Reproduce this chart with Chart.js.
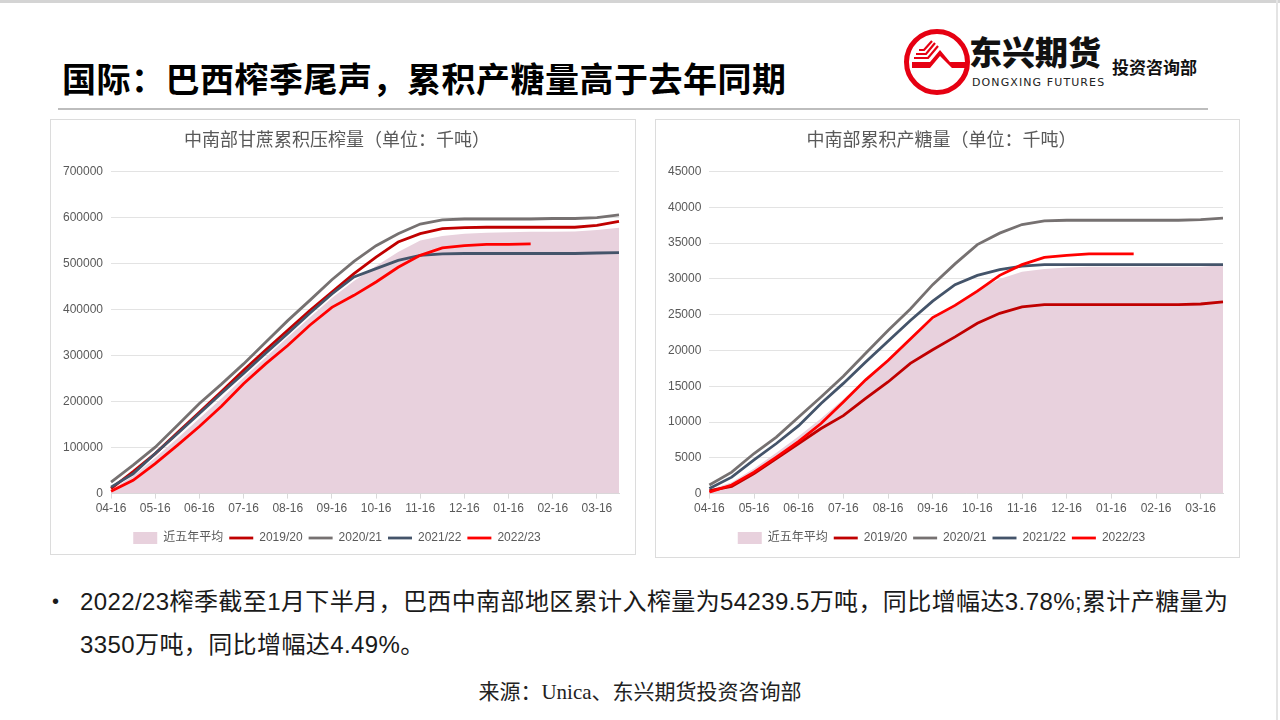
<!DOCTYPE html>
<html>
<head>
<meta charset="utf-8">
<script src="https://cdn.jsdelivr.net/npm/chart.js@4/dist/chart.umd.min.js"></script>
<style>
  html, body { margin: 0; padding: 0; background: #fff; }
  body { width: 1280px; height: 720px; position: relative; overflow: hidden;
         font-family: "Liberation Sans", "Noto Sans CJK SC", sans-serif; }
  .topline { position: absolute; left: 0; top: 0; width: 1280px; height: 3px; background: #d4d4d4; }
  .rightline { position: absolute; left: 1276px; top: 0; width: 2px; height: 720px; background: #e4e4e4; }
  .title { position: absolute; left: 62px; top: 61px; font-size: 34px; line-height: 1; font-weight: bold;
           letter-spacing: 0.5px; font-family: "Noto Sans CJK SC", sans-serif; color: #000; }
  .rule { position: absolute; left: 58px; top: 108px; width: 1150px; height: 2px; background: #bdbdbd; }
  .box { position: absolute; border: 1px solid #dcdcdc; background: #fff; }
  .bullet { position: absolute; left: 52px; top: 580px; font-size: 24px; color: #1a1a1a; line-height: 43px; }
  .bullet .dot { position: absolute; left: 0; top: 0; font-size: 20px; }
  .bullet .txt { position: absolute; left: 28px; top: 0; width: 1190px; white-space: nowrap; letter-spacing: 0.4px; }
  .source { position: absolute; left: 0; width: 1280px; top: 682px; text-align: center; line-height: 1;
            font-size: 21px; color: #222; font-family: "Liberation Serif", "Noto Sans CJK SC", serif; }
  .logo-cn { position: absolute; left: 969px; top: 35px; font-size: 33px; line-height: 1; font-weight: 900;
             font-family: "Noto Sans CJK SC", sans-serif; color: #111; }
  .logo-en { position: absolute; left: 972px; top: 77px; font-size: 11px; line-height: 1; color: #222;
             letter-spacing: 1.1px; font-family: "DejaVu Sans", sans-serif; }
  .logo-dept { position: absolute; left: 1112px; top: 58px; font-size: 17px; line-height: 1; font-weight: bold;
               font-family: "Noto Sans CJK SC", sans-serif; color: #111; }
</style>
</head>
<body>
<div class="topline"></div>
<div class="rightline"></div>
<div class="title">国际：巴西榨季尾声，累积产糖量高于去年同期</div>

<svg style="position:absolute;left:900px;top:26px" width="74" height="74" viewBox="0 0 74 74">
  <circle cx="37" cy="36" r="30.5" fill="none" stroke="#e60012" stroke-width="5"/>
  <path d="M12 36 L30 36 L40 24 L50 36 L66 36 L66 42 L52 42 L40 30 L30 42 L12 42 Z" fill="#e60012"/>
  <path d="M14 32 L28 32 L38 20 M16 28 L26 28 L35 17 M19 24 L24 24 L32 15" stroke="#e60012" stroke-width="2.2" fill="none"/>
</svg>
<div class="logo-cn">东兴期货</div>
<div class="logo-en">DONGXING FUTURES</div>
<div class="logo-dept">投资咨询部</div>

<div class="rule"></div>

<div class="box" style="left:50px;top:119px;width:584px;height:434px;">
  <canvas id="crushChart" width="584" height="434"></canvas>
</div>
<div class="box" style="left:655px;top:119px;width:583px;height:437px;">
  <canvas id="sugarChart" width="583" height="437"></canvas>
</div>

<div class="bullet">
  <div class="dot">•</div>
  <div class="txt">2022/23榨季截至1月下半月，巴西中南部地区累计入榨量为54239.5万吨，同比增幅达3.78%;累计产糖量为<br>3350万吨，同比增幅达4.49%。</div>
</div>
<div class="source">来源：Unica、东兴期货投资咨询部</div>

<script>
// 半月度日期（榨季4月16日起）
const dates = ['04-16', '05-01', '05-16', '06-01', '06-16', '07-01', '07-16', '08-01',
               '08-16', '09-01', '09-16', '10-01', '10-16', '11-01', '11-16', '12-01',
               '12-16', '01-01', '01-16', '02-01', '02-16', '03-01', '03-16', '04-01'];

// 甘蔗累积压榨量（千吨）
const crushAvg5 = [8000, 38000, 78000, 120000, 163000, 207000, 252000, 296000, 340000, 383000, 425000, 462000,
                   495000, 525000, 550000, 560000, 565000, 567000, 568000, 569000, 569000, 570000, 573000, 578000];
const crush1920 = [11000, 48000, 87000, 132000, 177000, 222000, 268000, 312000, 355000, 398000, 438000, 478000,
                   514000, 547000, 565000, 576000, 578000, 579000, 579000, 579000, 579000, 579000, 583000, 592000];
const crush2021 = [25000, 62000, 101000, 148000, 196000, 238000, 282000, 329000, 376000, 420000, 465000, 505000,
                   539000, 565000, 586000, 595000, 597000, 597000, 597000, 597000, 598000, 598000, 600000, 606000];
const crush2122 = [14000, 43000, 87000, 130000, 174000, 218000, 261000, 305000, 348000, 392000, 434000, 471000,
                   489000, 507000, 518000, 521000, 522000, 522000, 522000, 522000, 522000, 522000, 523000, 524000];
const crush2223 = [5000, 29000, 65000, 105000, 146000, 190000, 239000, 282000, 322000, 366000, 405000, 431000,
                   460000, 492000, 518000, 534000, 539000, 542000, 542000, 543000];

// 累积产糖量（千吨）
const sugarAvg5 = [500, 1600, 3500, 5700, 8000, 10500, 13200, 16000, 18800, 21600, 24300, 26500,
                   28500, 30000, 31000, 31400, 31600, 31700, 31700, 31700, 31700, 31700, 31700, 31900];
const sugar1920 = [400, 1000, 2800, 4900, 7000, 9100, 10900, 13300, 15600, 18200, 20100, 21900,
                   23800, 25200, 26100, 26400, 26400, 26400, 26400, 26400, 26400, 26400, 26500, 26800];
const sugar2021 = [1200, 3000, 5600, 7900, 10700, 13500, 16400, 19600, 22800, 25800, 29200, 32100,
                   34800, 36400, 37600, 38100, 38200, 38200, 38200, 38200, 38200, 38200, 38300, 38500];
const sugar2122 = [700, 2300, 4700, 7000, 9500, 12600, 15400, 18400, 21300, 24200, 26900, 29200,
                   30500, 31300, 31800, 32000, 32000, 32000, 32000, 32000, 32000, 32000, 32000, 32000];
const sugar2223 = [200, 1200, 3000, 5100, 7300, 9800, 12800, 15900, 18600, 21600, 24600, 26300,
                   28300, 30500, 32000, 33000, 33300, 33500, 33500, 33500];

const seriesNames = ['近五年平均', '2019/20', '2020/21', '2021/22', '2022/23'];
const seriesColors = ['#e8d1dd', '#c00000', '#767171', '#44546a', '#ff0000'];

const FONT = '"Liberation Sans", "Noto Sans CJK SC", sans-serif';
const TEXT = '#595959';

function lineSet(idx, data, order) {
    return {
        label: seriesNames[idx],
        data: data,
        borderColor: seriesColors[idx],
        backgroundColor: seriesColors[idx],
        borderWidth: 2.8,
        pointRadius: 0,
        pointStyle: 'line',
        tension: 0,
        fill: false,
        order: order
    };
}

function makeChart(canvasId, title, series, yMax, yStep, padBottom) {
    const ctx = document.getElementById(canvasId);
    new Chart(ctx, {
        type: 'line',
        data: {
            labels: dates,
            datasets: [
                {
                    label: seriesNames[0],
                    data: series[0],
                    borderWidth: 0,
                    borderColor: seriesColors[0],
                    backgroundColor: seriesColors[0],
                    pointRadius: 0,
                    pointStyle: 'rect',
                    fill: 'origin',
                    order: 10
                },
                lineSet(1, series[1], 3),
                lineSet(2, series[2], 2),
                lineSet(3, series[3], 1),
                lineSet(4, series[4], 0)
            ]
        },
        options: {
            responsive: false,
            animation: false,
            layout: { padding: { left: 4, right: 16, top: 4, bottom: padBottom } },
            plugins: {
                title: {
                    display: true,
                    text: title,
                    color: TEXT,
                    font: { family: FONT, size: 18, weight: 'normal' },
                    padding: { top: 6, bottom: 20 }
                },
                legend: {
                    position: 'bottom',
                    labels: {
                        usePointStyle: true,
                        pointStyleWidth: 24,
                        boxHeight: 12,
                        padding: 6,
                        color: TEXT,
                        font: { family: FONT, size: 12 },
                        sort: (a, b) => a.datasetIndex - b.datasetIndex
                    }
                },
                tooltip: { enabled: false }
            },
            scales: {
                x: {
                    offset: false,
                    border: { color: '#d9d9d9' },
                    grid: {
                        drawOnChartArea: false,
                        drawTicks: true,
                        tickLength: 5,
                        color: (c) => (c.index % 2 === 0 ? '#d9d9d9' : 'rgba(0,0,0,0)')
                    },
                    ticks: {
                        autoSkip: false,
                        maxRotation: 0,
                        color: TEXT,
                        font: { family: FONT, size: 12 },
                        padding: 3,
                        callback: (v, i) => (i % 2 === 0 ? dates[i] : '')
                    },
                    afterFit: (scale) => { scale.height += 7; }
                },
                y: {
                    min: 0,
                    max: yMax,
                    border: { display: false },
                    grid: { color: '#e3e3e3', drawTicks: false },
                    ticks: {
                        stepSize: yStep,
                        color: TEXT,
                        padding: 8,
                        font: { family: FONT, size: 12 },
                        callback: (v) => String(v)
                    }
                }
            }
        }
    });
}

makeChart('crushChart', '中南部甘蔗累积压榨量（单位：千吨）',
    [crushAvg5, crush1920, crush2021, crush2122, crush2223], 700000, 100000, 0);
makeChart('sugarChart', '中南部累积产糖量（单位：千吨）',
    [sugarAvg5, sugar1920, sugar2021, sugar2122, sugar2223], 45000, 5000, 3);
</script>
</body>
</html>
